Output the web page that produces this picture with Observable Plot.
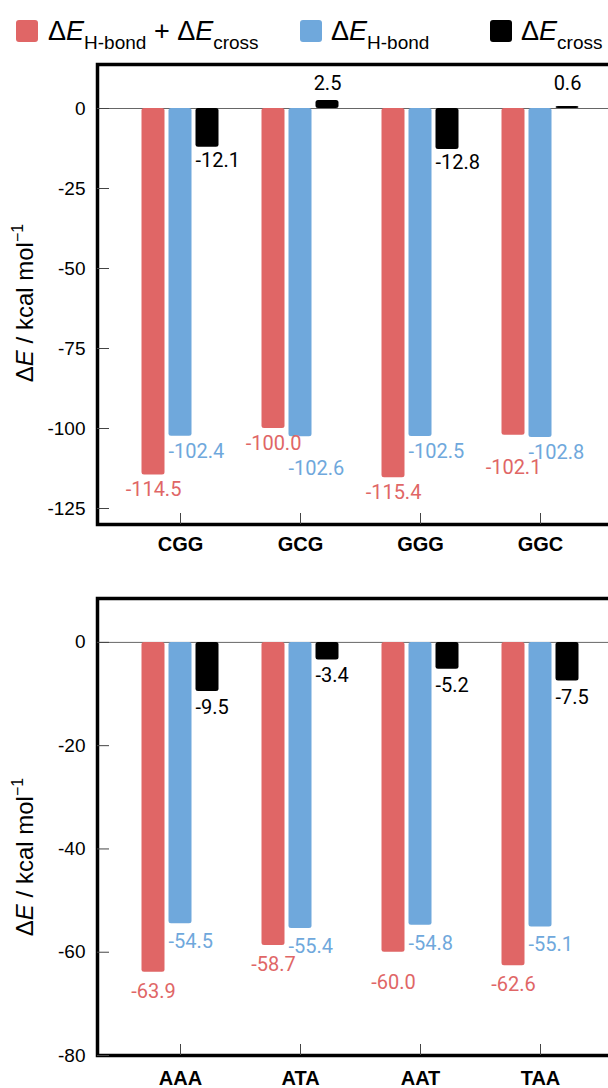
<!DOCTYPE html>
<html>
<head>
<meta charset="utf-8">
<script src="https://cdn.jsdelivr.net/npm/d3@7"></script>
<script src="https://cdn.jsdelivr.net/npm/@observablehq/plot@0.6"></script>
<style>
  html, body { margin: 0; padding: 0; overflow: hidden; background: #fff; width: 608px; height: 1088px; }
  #legend { position: absolute; left: 0; top: 0; width: 608px; height: 56px; font-family: "Liberation Sans", Arial, sans-serif; }
  .sw { position: absolute; top: 20px; width: 22px; height: 22px; border-radius: 3px; }
  .lab { position: absolute; top: 18px; font-size: 27px; line-height: 27px; white-space: nowrap; color: #000; }
  .lab sub { font-size: 19px; vertical-align: -9px; line-height: 0; }
  .lab i { font-style: italic; }
  #top { position: absolute; left: 0; top: 50px; width: 640px; }
  #bot { position: absolute; left: 0; top: 580px; width: 640px; }
  #top svg, #bot svg { display: block; max-width: none !important; width: 640px !important; }
</style>
</head>
<body>
<div id="legend">
  <span class="sw" style="left:16px;background:#e06666"></span>
  <span class="lab" style="left:48px">Δ<i>E</i><sub>H-bond</sub> + Δ<i>E</i><sub>cross</sub></span>
  <span class="sw" style="left:300px;background:#6fa8dc"></span>
  <span class="lab" style="left:331px">Δ<i>E</i><sub>H-bond</sub></span>
  <span class="sw" style="left:490px;background:#000"></span>
  <span class="lab" style="left:521px">Δ<i>E</i><sub>cross</sub></span>
</div>
<div id="top"></div>
<div id="bot"></div>
<script>
// ---- data ----
const seriesNames = ["ΔE H-bond + ΔE cross", "ΔE H-bond", "ΔE cross"];
const seriesColors = ["#e06666", "#6fa8dc", "#000000"];

const topCats   = ["CGG", "GCG", "GGG", "GGC"];
const topTotal  = [-114.5, -100.0, -115.4, -102.1];
const topHbond  = [-102.4, -102.6, -102.5, -102.8];
const topCross  = [-12.1, 2.5, -12.8, 0.6];
const topTicks  = [0, -25, -50, -75, -100, -125];

const botCats   = ["AAA", "ATA", "AAT", "TAA"];
const botTotal  = [-63.9, -58.7, -60.0, -62.6];
const botHbond  = [-54.5, -55.4, -54.8, -55.1];
const botCross  = [-9.5, -3.4, -5.2, -7.5];
const botTicks  = [0, -20, -40, -60, -80];

const fmt1 = v => v.toFixed(1);

function panel(cfg) {
  const rows = cfg.cats.map((c, i) => ({cat: c, total: cfg.total[i], hbond: cfg.hbond[i], cross: cfg.cross[i]}));
  const isPushed = (d, s) => cfg.pushed.includes(d.cat + ":" + s);
  const barOpts = {insetLeft: 26.5, insetRight: 26.5, rx: 2.5};
  const txt = {fontSize: 20, fontFamily: "Roboto, sans-serif"};
  const svg = Plot.plot({
    width: 640,
    height: cfg.height,
    marginLeft: 97,
    marginRight: 17,
    marginTop: cfg.marginTop,
    marginBottom: cfg.marginBottom,
    style: {fontFamily: "Liberation Sans, Arial, sans-serif", fontSize: "19px", color: "#000", background: "transparent"},
    x: {type: "band", domain: cfg.cats, padding: 0.364, label: null, axis: null},
    y: {domain: cfg.yDomain, label: null, axis: null},
    marks: [
      Plot.ruleY([0], {stroke: "#666", strokeWidth: 1}),
      Plot.barY(rows, {x: "cat", y: "total", fill: seriesColors[0], dx: -27, ...barOpts}),
      Plot.barY(rows, {x: "cat", y: "hbond", fill: seriesColors[1], dx: 0, ...barOpts}),
      Plot.barY(rows, {x: "cat", y: "cross", fill: seriesColors[2], dx: 27, ...barOpts}),
      // red labels
      Plot.text(rows.filter(d => !isPushed(d, "red")), {x: "cat", y: "total", text: d => fmt1(d.total), fill: seriesColors[0], dx: -27, dy: cfg.dyRed, textAnchor: "middle", ...txt}),
      Plot.text(rows.filter(d => isPushed(d, "red")), {x: "cat", y: "total", text: d => fmt1(d.total), fill: seriesColors[0], dx: -27, dy: cfg.dyPushed, textAnchor: "middle", ...txt}),
      // blue labels
      Plot.text(rows.filter(d => !isPushed(d, "blue")), {x: "cat", y: "hbond", text: d => fmt1(d.hbond), fill: seriesColors[1], dx: -12, dy: cfg.dyBlue, textAnchor: "start", ...txt}),
      Plot.text(rows.filter(d => isPushed(d, "blue")), {x: "cat", y: "hbond", text: d => fmt1(d.hbond), fill: seriesColors[1], dx: -12, dy: cfg.dyPushed, textAnchor: "start", ...txt}),
      // black labels
      Plot.text(rows.filter(d => d.cross < 0), {x: "cat", y: "cross", text: d => fmt1(d.cross), fill: "#000", dx: 15, dy: cfg.dyBlack, textAnchor: "start", ...txt}),
      Plot.text(rows.filter(d => d.cross >= 0), {x: "cat", y: () => 0, text: d => fmt1(d.cross), fill: "#000", dx: 27, dy: -25, textAnchor: "middle", ...txt}),
      Plot.frame({stroke: "#000", strokeWidth: 3.5}),
      Plot.axisY({ticks: cfg.ticks, tickSize: -12, tickPadding: 24, tickFormat: d => String(d), stroke: "#444", label: null, fontSize: 19}),
      Plot.axisX({tickSize: -11, tickPadding: cfg.xPad, stroke: "#444", label: null, fontSize: 20, fontWeight: "bold"})
    ]
  });
  const t = d3.select(svg).append("text")
    .attr("transform", `translate(33,${cfg.labelY}) rotate(-90)`)
    .attr("text-anchor", "middle")
    .attr("font-family", "Liberation Sans, Arial, sans-serif")
    .attr("font-size", 24)
    .attr("fill", "#000");
  t.append("tspan").text("Δ");
  t.append("tspan").attr("font-style", "italic").text("E");
  t.append("tspan").text(" / kcal mol");
  t.append("tspan").attr("font-size", 16).attr("dy", -10).text("−1");
  return svg;
}

document.getElementById("top").appendChild(panel({
  cats: topCats, total: topTotal, hbond: topHbond, cross: topCross, ticks: topTicks,
  yDomain: [-130, 13.75], height: 530, marginTop: 14, marginBottom: 56,
  dyRed: 15, dyBlue: 15, dyBlack: 13, dyPushed: 32, pushed: ["GCG:blue", "GGC:red"],
  xPad: 23, labelY: 253
}));
document.getElementById("bot").appendChild(panel({
  cats: botCats, total: botTotal, hbond: botHbond, cross: botCross, ticks: botTicks,
  yDomain: [-80, 8.5], height: 508, marginTop: 18, marginBottom: 33,
  dyRed: 19, dyBlue: 18, dyBlack: 16, dyPushed: 30, pushed: ["AAT:red"],
  xPad: 26, labelY: 277
}));
</script>
</body>
</html>
